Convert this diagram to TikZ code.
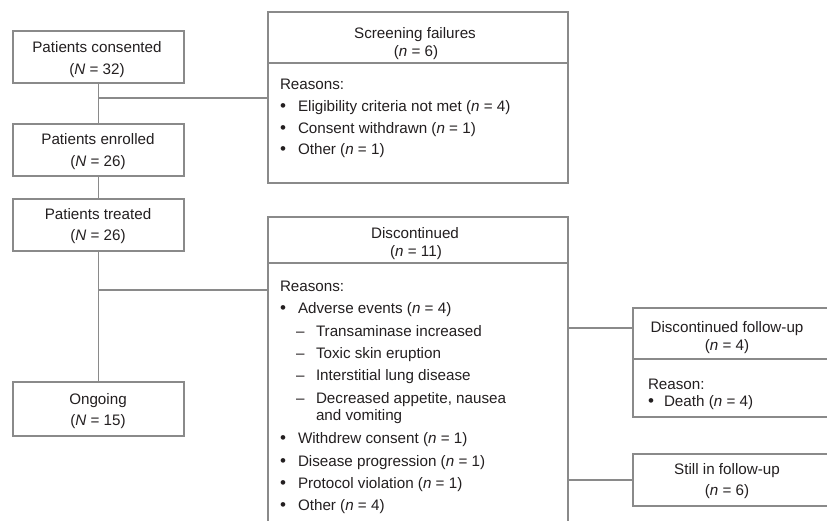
\documentclass[tikz,border=0pt]{standalone}
\usepackage{fontspec}
\setmainfont{Liberation Sans}
\definecolor{linegray}{HTML}{8A8A8A}
\definecolor{textdark}{HTML}{231F20}
\newcommand{\fs}{\fontsize{15.2pt}{18pt}\selectfont}
\newcommand{\nn}{\textit{n}}
\newcommand{\NN}{\textit{N}}
\newcommand{\bul}{{\fontsize{17pt}{18pt}\selectfont\textbullet}}
\begin{document}
\begin{tikzpicture}[x=1pt,y=-1pt,
  box/.style={draw=linegray, line width=1.2pt, inner sep=0pt, outer sep=0pt, anchor=north west},
  conn/.style={draw=linegray, line width=1.2pt},
  txt/.style={inner sep=0pt, outer sep=0pt, anchor=base, text=textdark, font=\fs},
  ltxt/.style={txt, anchor=base west}]
\useasboundingbox (0,0) rectangle (827,521);
\fill[white] (0,0) rectangle (827,521);
\clip (0,0) rectangle (827,521);
% boxes
\node[box, minimum width=171, minimum height=52] (cons) at (13,31) {};
\node[box, minimum width=171, minimum height=52] (enr) at (13,124) {};
\node[box, minimum width=171, minimum height=52] (trt) at (13,199) {};
\node[box, minimum width=171, minimum height=54] (ong) at (13,382) {};
\node[box, minimum width=300, minimum height=171] (scr) at (268,12) {};
\node[box, minimum width=300, minimum height=320] (disc) at (268,217) {};
\node[box, minimum width=210, minimum height=109] (dfu) at (633,308) {};
\node[box, minimum width=210, minimum height=52] (sfu) at (633,454) {};
% dividers
\coordinate (d1) at (0,63);
\coordinate (d2) at (0,263);
\coordinate (d3) at (0,359);
\draw[conn] (scr.west |- d1) -- (scr.east |- d1);
\draw[conn] (disc.west |- d2) -- (disc.east |- d2);
\draw[conn] (dfu.west |- d3) -- (dfu.east |- d3);
% connectors
\draw[conn] (cons.south) -- (enr.north);
\draw[conn] (enr.south) -- (trt.north);
\draw[conn] (trt.south) -- (ong.north);
\coordinate (j1) at (98.5,98);
\draw[conn] (j1) -- (j1 -| scr.west);
\coordinate (j2) at (98.5,290);
\draw[conn] (j2) -- (j2 -| disc.west);
\coordinate (j3) at (633,328);
\draw[conn] (j3 -| disc.east) -- (j3 -| dfu.west);
\draw[conn] (sfu.west -| disc.east) -- (sfu.west);
% left box texts
\node[txt] (t1a) at (97,52.5) {Patients consented};
\node[txt] (t1b) at (97,74.5) {(\NN{} = 32)};
\node[txt] (t2a) at (98,145) {Patients enrolled};
\node[txt] (t2b) at (98,167) {(\NN{} = 26)};
\node[txt] (t3a) at (98,219.5) {Patients treated};
\node[txt] (t3b) at (98,241) {(\NN{} = 26)};
\node[txt] (t4a) at (98,404) {Ongoing};
\node[txt] (t4b) at (98,425.5) {(\NN{} = 15)};
% screening failures
\node[txt] (s0a) at (415,38.3) {Screening failures};
\node[txt] (s0b) at (416,56.5) {(\nn{} = 6)};
\node[ltxt] (s1) at (280,89.5) {Reasons:};
\node[ltxt] (s2b) at (280,111.5) {\bul};
\node[ltxt] (s2) at (298,111.5) {Eligibility criteria not met (\nn{} = 4)};
\node[ltxt] (s3b) at (280,133.2) {\bul};
\node[ltxt] (s3) at (298,133.2) {Consent withdrawn (\nn{} = 1)};
\node[ltxt] (s4b) at (280,155) {\bul};
\node[ltxt] (s4) at (298,155) {Other (\nn{} = 1)};
% discontinued
\node[txt] (c0a) at (415,238.3) {Discontinued};
\node[txt] (c0b) at (416,256.7) {(\nn{} = 11)};
\node[ltxt] (c1) at (280,291.7) {Reasons:};
\node[ltxt] (c2b) at (280,313.3) {\bul};
\node[ltxt] (c2) at (298,313.3) {Adverse events (\nn{} = 4)};
\node[ltxt] (c3d) at (296,336.7) {--};
\node[ltxt] (c3) at (316,336.7) {Transaminase increased};
\node[ltxt] (c4d) at (296,358.3) {--};
\node[ltxt] (c4) at (316,358.3) {Toxic skin eruption};
\node[ltxt] (c5d) at (296,380) {--};
\node[ltxt] (c5) at (316,380) {Interstitial lung disease};
\node[ltxt] (c6d) at (296,403.3) {--};
\node[ltxt] (c6) at (316,403.3) {Decreased appetite, nausea};
\node[ltxt] (c6x) at (316,420.7) {and vomiting};
\node[ltxt] (c7b) at (280,443.3) {\bul};
\node[ltxt] (c7) at (298,443.3) {Withdrew consent (\nn{} = 1)};
\node[ltxt] (c8b) at (280,466) {\bul};
\node[ltxt] (c8) at (298,466) {Disease progression (\nn{} = 1)};
\node[ltxt] (c9b) at (280,488.3) {\bul};
\node[ltxt] (c9) at (298,488.3) {Protocol violation (\nn{} = 1)};
\node[ltxt] (c10b) at (280,510) {\bul};
\node[ltxt] (c10) at (298,510) {Other (\nn{} = 4)};
% discontinued follow-up
\node[txt] (f0a) at (727,332.7) {Discontinued follow-up};
\node[txt] (f0b) at (727,350.5) {(\nn{} = 4)};
\node[ltxt] (f1) at (648,389.5) {Reason:};
\node[ltxt] (f2b) at (648,406.5) {\bul};
\node[ltxt] (f2) at (664,406.5) {Death (\nn{} = 4)};
% still in follow-up
\node[txt] (g0a) at (727,474) {Still in follow-up};
\node[txt] (g0b) at (727,495) {(\nn{} = 6)};
\end{tikzpicture}
\end{document}
